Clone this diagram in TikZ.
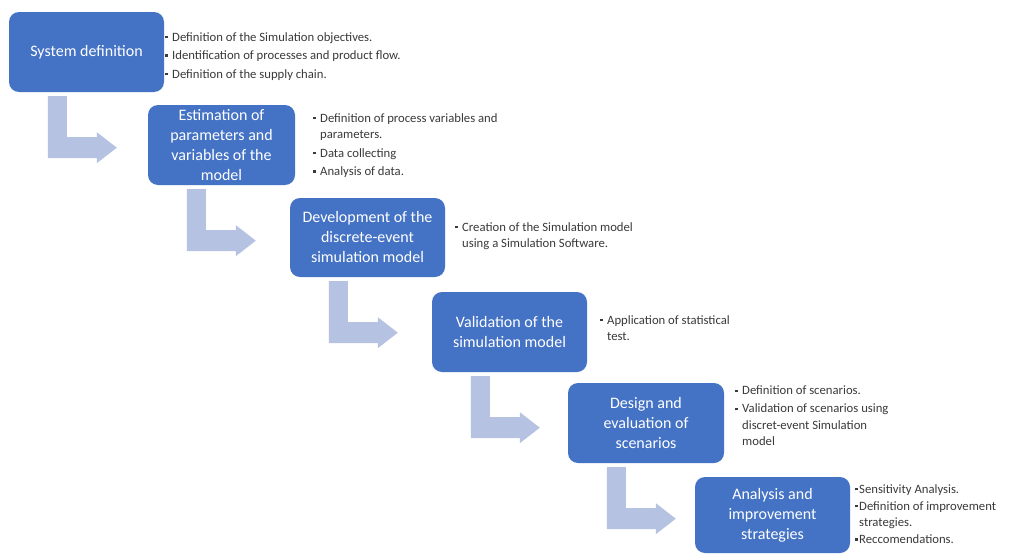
\documentclass[tikz,border=0pt]{standalone}
\usepackage{fontspec}
\setmainfont{Carlito}
\definecolor{boxblue}{HTML}{4472C4}
\definecolor{arrowc}{HTML}{B6C2E2}
\definecolor{txtgray}{HTML}{3A3A3A}
\newcommand{\bl}{\makebox[7pt][l]{\raisebox{0.2em}{\rule{2.8pt}{2.8pt}}}}
\newcommand{\blt}{\makebox[4pt][l]{\raisebox{0.2em}{\rule{2.8pt}{2.8pt}}}}
\newcommand{\ind}{\hspace*{7pt}}
\newcommand{\indt}{\hspace*{4pt}}
\newcommand{\bentarrow}[1]{%
  \fill[arrowc, shift={(#1.south west)}] (39,4) -- (58,4) -- (58,45) -- (88,45) -- (88,40)
    -- (108,55.5) -- (88,71) -- (88,66) -- (39,66) -- cycle;}
\begin{document}
\begin{tikzpicture}[x=1pt,y=-1pt,
  stage/.style={fill=boxblue, rounded corners=10pt, text=white, align=center,
    inner sep=0pt, minimum width=155pt, minimum height=80pt,
    font=\fontsize{16}{20}\selectfont},
  notes/.style={anchor=north west, align=left, inner sep=0pt, text=txtgray,
    font=\fontsize{12.7}{16.5}\selectfont}]
\useasboundingbox[fill=white] (0,0) rectangle (1018,554);
% stage boxes
\node[stage] (b1) at (86.5,52) {System definition};
\node[stage, minimum width=147pt] (b2) at (221.5,145) {Estimation of\\parameters and\\variables of the\\model};
\node[stage, minimum height=79pt] (b3) at (367.5,237.5) {Development of the\\discrete-event\\simulation model};
\node[stage] (b4) at (509.5,332) {Validation of the\\simulation model};
\node[stage, minimum width=156pt] (b5) at (646,423) {Design and\\evaluation of\\scenarios};
\node[stage, minimum height=76pt] (b6) at (772.5,515) {Analysis and\\improvement\\strategies};
% bent arrows
\bentarrow{b1}
\bentarrow{b2}
\bentarrow{b3}
\bentarrow{b4}
\bentarrow{b5}
% notes
\node[notes] (n1) at (165,32) {\bl Definition of the Simulation objectives.\\[2pt]
  \bl Identification of processes and product flow.\\[2pt]
  \bl Definition of the supply chain.};
\node[notes] (n2) at (313,113) {\bl Definition of process variables and\\
  \ind parameters.\\[2pt]
  \bl Data collecting\\[2pt]
  \bl Analysis of data.};
\node[notes] (n3) at (455,222) {\bl Creation of the Simulation model\\
  \ind using a Simulation Software.};
\node[notes] (n4) at (600,315) {\bl Application of statistical\\
  \ind test.};
\node[notes] (n5) at (735,386) {\bl Definition of scenarios.\\[1.5pt]
  \bl Validation of scenarios using\\
  \ind discret-event Simulation\\
  \ind model};
\node[notes] (n6) at (855,484) {\blt Sensitivity Analysis.\\[0.5pt]
  \blt Definition of improvement\\
  \indt strategies.\\[0.5pt]
  \blt Reccomendations.};
\end{tikzpicture}
\end{document}
